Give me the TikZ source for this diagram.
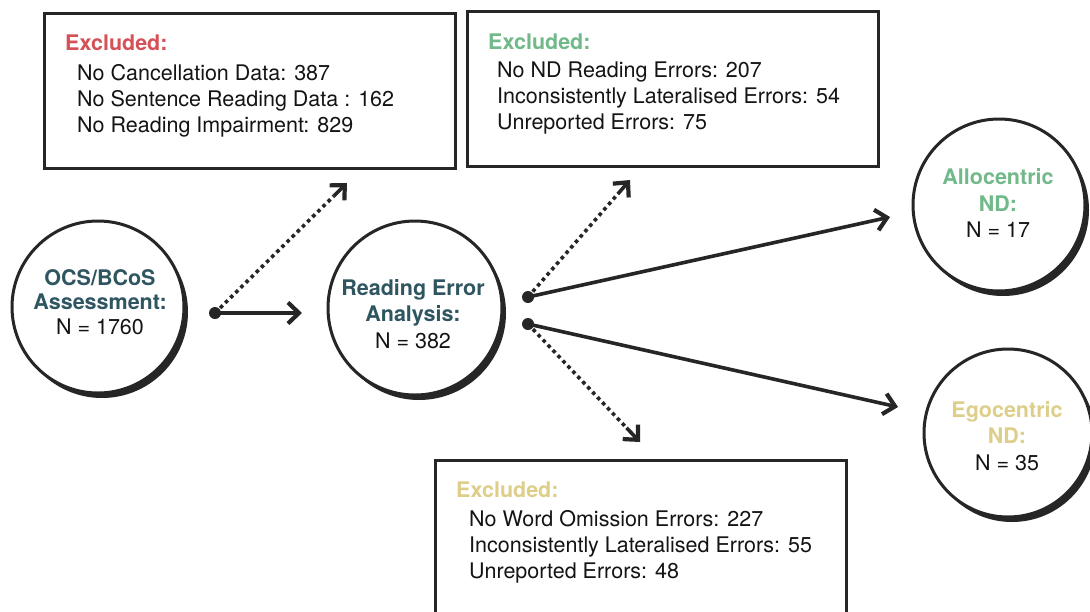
\documentclass[tikz,border=0pt]{standalone}
\usepackage{fontspec}
\setmainfont{TeX Gyre Heros}
\usetikzlibrary{arrows.meta,shadows}
\definecolor{ink}{HTML}{262626}
\definecolor{txt}{HTML}{141414}
\definecolor{exred}{HTML}{D65058}
\definecolor{exgreen}{HTML}{72B98A}
\definecolor{exyellow}{HTML}{DDCF8A}
\definecolor{titleteal}{HTML}{2E5560}
\begin{document}
\begin{tikzpicture}[x=1pt,y=-1pt,
  boxst/.style={draw=ink, line width=3pt, inner sep=0},
  ttl/.style={anchor=base west, inner sep=0, font=\bfseries\fontsize{21.5}{26}\selectfont},
  itm/.style={anchor=base west, inner sep=0, font=\fontsize{21.5}{26}\selectfont, text=txt},
  circ/.style={circle, draw=ink, line width=3pt, fill=white, inner sep=0,
    drop shadow={shadow xshift=4pt, shadow yshift=-5pt, fill=ink, opacity=1}},
  ctext/.style={align=center, inner sep=0, text=txt},
  plainline/.style={draw=ink, line width=3.6pt},
  solidarrow/.style={plainline, -{Straight Barb[length=11pt,width=21pt,line width=4.2pt]}},
  dotline/.style={plainline, dash pattern=on 3.6pt off 3.6pt},
  dotst/.style={circle, fill=ink, inner sep=0, minimum size=12pt}]
\useasboundingbox (0,0) rectangle (1090,611);
\fill[white] (0,0) rectangle (1090,611);
\clip (0,0) rectangle (1090,611);

% boxes
\node[boxst, minimum width=411pt, minimum height=155pt] (b1) at (249.5,90.5) {};
\node[boxst, minimum width=411pt, minimum height=155pt] (b2) at (672.5,88.5) {};
\node[boxst, minimum width=411pt, minimum height=155pt] (b3) at (640.5,537.5) {};

\node[ttl, text=exred] (b1t) at (65,50.5) {Excluded:};
\node[itm] (b1a) at (77,80.5) {No Cancellation Data: 387};
\node[itm] (b1b) at (77,106.5) {No Sentence Reading Data : 162};
\node[itm] (b1c) at (77,132.5) {No Reading Impairment: 829};

\node[ttl, text=exgreen] (b2t) at (488,49.5) {Excluded:};
\node[itm] (b2a) at (497,77.5) {No ND Reading Errors: 207};
\node[itm] (b2b) at (497,103.5) {Inconsistently Lateralised Errors: 54};
\node[itm] (b2c) at (497,129.5) {Unreported Errors: 75};

\node[ttl, text=exyellow] (b3t) at (456,497.5) {Excluded:};
\node[itm] (b3a) at (469,526.5) {No Word Omission Errors: 227};
\node[itm] (b3b) at (469,552.5) {Inconsistently Lateralised Errors: 55};
\node[itm] (b3c) at (469,578) {Unreported Errors: 48};

% circles
\node[circ, minimum size=172pt] (c1) at (98,307) {};
\node[circ, minimum size=174pt] (c2) at (415,308) {};
\node[circ, minimum size=172pt] (c3) at (999,205) {};
\node[circ, minimum size=168pt] (c4) at (1008,433) {};

\node[ctext, font=\fontsize{21.5}{24.5}\selectfont] (c1t) at (100,302)
  {\textbf{\color{titleteal}OCS/BCoS}\\\textbf{\color{titleteal}Assessment:}\\N = 1760};
\node[ctext, font=\fontsize{21.5}{26.5}\selectfont] (c2t) at (413,314)
  {\textbf{\color{titleteal}Reading Error}\\\textbf{\color{titleteal}Analysis:}\\N = 382};
\node[ctext, font=\fontsize{21.5}{26.5}\selectfont] (c3t) at (998,203)
  {\textbf{\color{exgreen}Allocentric}\\\textbf{\color{exgreen}ND:}\\N = 17};
\node[ctext, font=\fontsize{21.5}{26.5}\selectfont] (c4t) at (1007,436)
  {\textbf{\color{exyellow}Egocentric}\\\textbf{\color{exyellow}ND:}\\N = 35};

% connector points
\coordinate (d1) at (215,313);
\coordinate (dA) at (528,297);
\coordinate (dB) at (528,324);
\coordinate (t1s) at (302,313);
\coordinate (t1d) at (347,183);
\coordinate (tAd) at (630,180);
\coordinate (tBd) at (640,442);
\coordinate (tA) at (890,217);
\coordinate (tB) at (898,407);

\path (d1) -- (t1d) coordinate[pos=0.9] (m1d);
\path (dA) -- (tAd) coordinate[pos=0.88] (mAd);
\path (dB) -- (tBd) coordinate[pos=0.88] (mBd);

\draw[dotline] (d1) -- (m1d);
\draw[solidarrow] (m1d) -- (t1d);
\draw[dotline] (dA) -- (mAd);
\draw[solidarrow] (mAd) -- (tAd);
\draw[dotline] (dB) -- (mBd);
\draw[solidarrow] (mBd) -- (tBd);
\draw[solidarrow] (d1) -- (t1s);
\draw[solidarrow] (dA) -- (tA);
\draw[solidarrow] (dB) -- (tB);

\node[dotst] (d1n) at (d1) {};
\node[dotst] (dAn) at (dA) {};
\node[dotst] (dBn) at (dB) {};
\end{tikzpicture}
\end{document}
